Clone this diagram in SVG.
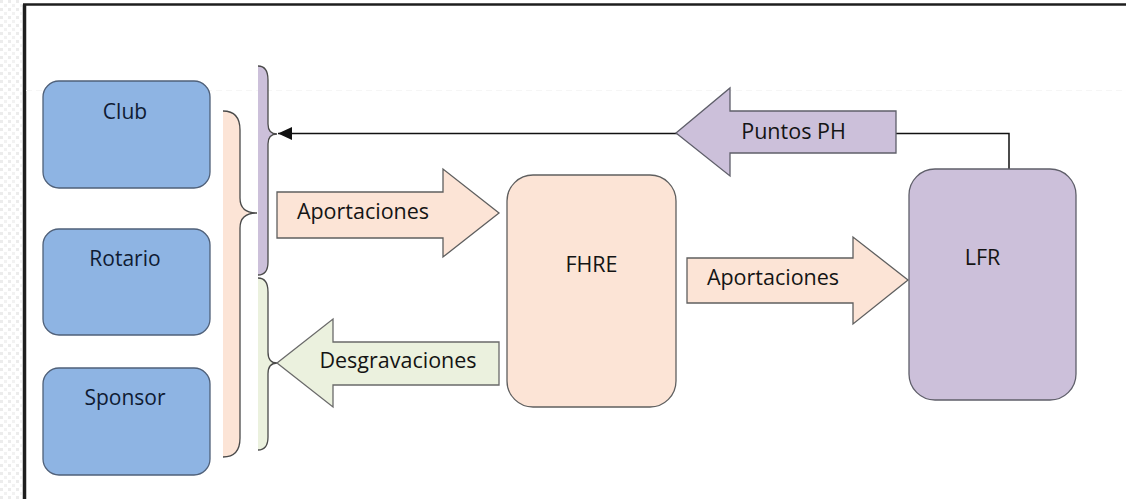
<svg xmlns="http://www.w3.org/2000/svg" width="1126" height="499" viewBox="0 0 1126 499">
  <defs>
    <style>
      .t { font-family: "Open Sans", "Liberation Sans", sans-serif; font-size: 21.5px; fill: #141414; text-anchor: middle; }
      .tb { font-family: "Open Sans", "Liberation Sans", sans-serif; font-size: 21px; fill: #0f1b33; text-anchor: middle; }
      .blue { fill: #8eb4e3; stroke: #4f6079; stroke-width: 1.3; }
      .peach { fill: #fce4d6; stroke: #5f5f5f; stroke-width: 1.3; }
      .lilac { fill: #ccc0da; stroke: #5f5f6a; stroke-width: 1.3; }
      .green { fill: #ebf1de; stroke: #6a6a6a; stroke-width: 1.3; }
      .bfill { stroke: none; }
      .bline { fill: none; stroke: #4a4a4a; stroke-width: 1.3; }
      .conn { fill: none; stroke: #111; stroke-width: 1.5; }
    </style>
    <pattern id="chk" width="8" height="8" patternUnits="userSpaceOnUse">
      <rect x="0" y="0" width="3" height="3" fill="#ececec"/>
      <rect x="4" y="4" width="3" height="3" fill="#f2f2f2"/>
    </pattern>
    <marker id="ah" markerWidth="15" markerHeight="13" refX="14" refY="6.5" orient="auto" markerUnits="userSpaceOnUse">
      <path d="M0,0 L14,6.5 L0,13 Z" fill="#111"/>
    </marker>
  </defs>

  <!-- background -->
  <rect x="0" y="0" width="1126" height="499" fill="#ffffff"/>
  <rect x="0" y="0" width="22" height="499" fill="url(#chk)"/>
  <!-- screenshot frame -->
  <line x1="24.5" y1="4.5" x2="24.5" y2="499" stroke="#1e1e1e" stroke-width="3.5"/>
  <line x1="23" y1="4.5" x2="1126" y2="4.5" stroke="#1e1e1e" stroke-width="2.5"/>
  <line x1="26" y1="90.5" x2="1126" y2="90.5" stroke="#f6f6f6" stroke-width="1" stroke-dasharray="6 4"/>

  <!-- braces -->
  <g id="brace-orange">
    <path class="peach bfill" d="M223,111 Q240,111 240,130 L240,198 Q240,213 257,213 Q240,213 240,228 L240,438 Q240,457 223,457 Z"/>
    <path class="bline" d="M223,111 Q240,111 240,130 L240,198 Q240,213 257,213 Q240,213 240,228 L240,438 Q240,457 223,457"/>
  </g>
  <g id="brace-purple">
    <path class="lilac bfill" d="M258,66 Q268,66 268,80 L268,124 Q268,134 277,134 Q268,134 268,144 L268,262 Q268,275 258,275 Z"/>
    <path class="bline" d="M258,66 Q268,66 268,80 L268,124 Q268,134 277,134 Q268,134 268,144 L268,262 Q268,275 258,275"/>
  </g>
  <g id="brace-green">
    <path class="green bfill" d="M258,278 Q268,278 268,292 L268,352 Q268,363 277,363 Q268,363 268,374 L268,437 Q268,450 258,450 Z"/>
    <path class="bline" d="M258,278 Q268,278 268,292 L268,352 Q268,363 277,363 Q268,363 268,374 L268,437 Q268,450 258,450"/>
  </g>

  <!-- connectors -->
  <g id="connectors">
    <path class="conn" d="M1009,169 L1009,133.5 L278,133.5" marker-end="url(#ah)"/>
  </g>

  <!-- nodes -->
  <g id="club">
    <rect class="blue" x="43" y="81" width="167" height="107" rx="16"/>
    <text class="tb" x="125" y="119">Club</text>
  </g>
  <g id="rotario">
    <rect class="blue" x="43" y="229" width="167" height="106" rx="16"/>
    <text class="tb" x="125" y="266">Rotario</text>
  </g>
  <g id="sponsor">
    <rect class="blue" x="43" y="368" width="167" height="107" rx="16"/>
    <text class="tb" x="125" y="405">Sponsor</text>
  </g>
  <g id="fhre">
    <rect class="peach" x="507" y="175" width="169" height="232" rx="26"/>
    <text class="t" x="591.5" y="272">FHRE</text>
  </g>
  <g id="lfr">
    <rect class="lilac" x="909" y="169" width="167" height="231" rx="26"/>
    <text class="t" x="982.5" y="265">LFR</text>
  </g>

  <g id="arrow-aportaciones-1">
    <path class="peach" d="M277,192 L443,192 L443,169 L499,213 L443,257 L443,238 L277,238 Z"/>
    <text class="t" x="363" y="219">Aportaciones</text>
  </g>
  <g id="arrow-aportaciones-2">
    <path class="peach" d="M687,258 L853,258 L853,237 L908,280 L853,324 L853,303 L687,303 Z"/>
    <text class="t" x="773" y="285">Aportaciones</text>
  </g>
  <g id="arrow-desgravaciones">
    <path class="green" d="M499,342 L333,342 L333,319 L277,363 L333,407 L333,385 L499,385 Z"/>
    <text class="t" x="398" y="368">Desgravaciones</text>
  </g>
  <g id="arrow-puntos">
    <path class="lilac" d="M896,111 L730,111 L730,88 L676,133 L730,176 L730,153 L896,153 Z"/>
    <text class="t" x="793.5" y="139">Puntos PH</text>
  </g>
</svg>
